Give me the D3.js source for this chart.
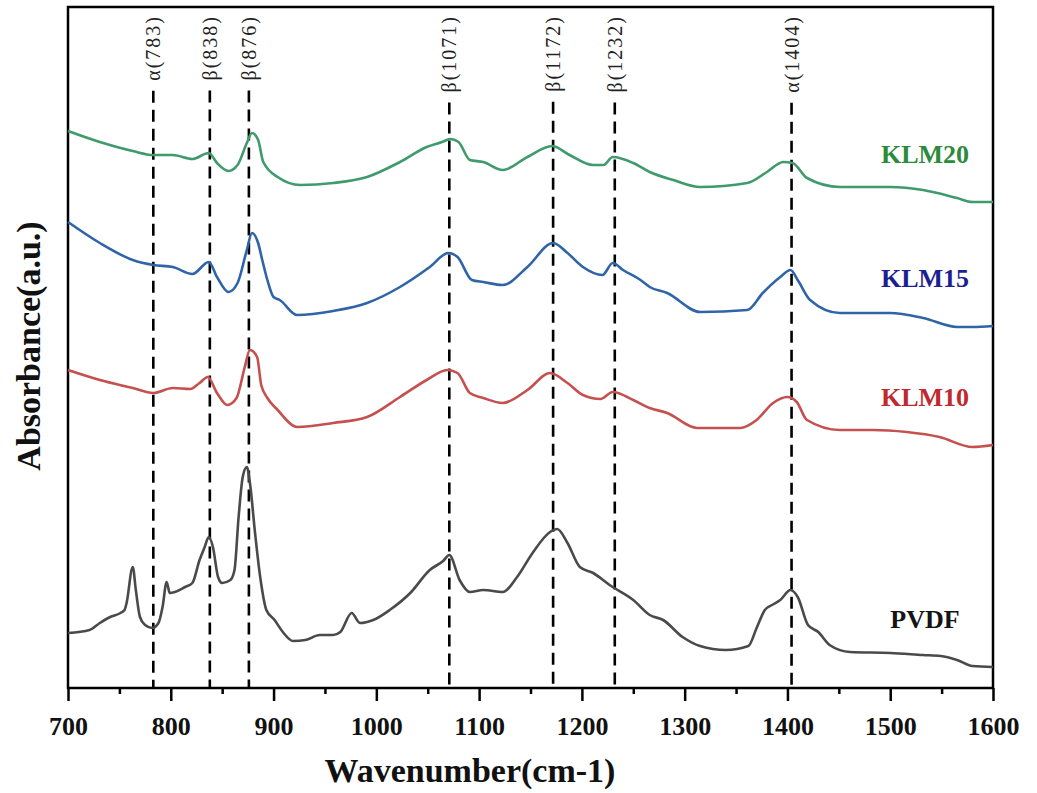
<!DOCTYPE html>
<html>
<head>
<meta charset="utf-8">
<title>FTIR spectra</title>
<script src="https://cdn.jsdelivr.net/npm/d3@7/dist/d3.min.js"></script>
<style>
  body { margin: 0; background: #fff; }
  svg { display: block; }
</style>
</head>
<body>
<div id="chart"></div>
<script>
"use strict";
// Spectra as [wavenumber (cm-1), absorbance (a.u., stacked offset)]
const PVDF = [
  [700, 0.55], [721, 0.58], [731, 0.65], [741, 0.71], [751, 0.75], [755, 0.78], [757, 0.85],
  [763, 1.21], [766, 0.98], [770, 0.71], [775, 0.63], [782, 0.60], [788, 0.65], [792, 0.81],
  [796, 1.06], [799, 0.95], [804, 0.96], [814, 1.01], [821, 1.05], [828, 1.28], [833, 1.41],
  [837, 1.51], [841, 1.41], [846, 1.11], [850, 1.05], [858, 1.08], [862, 1.18], [866, 1.71],
  [870, 2.11], [874, 2.21], [877, 2.05], [882, 1.55], [887, 1.11], [893, 0.78], [901, 0.68],
  [909, 0.56], [919, 0.47], [931, 0.48], [945, 0.53], [958, 0.53], [965, 0.56], [976, 0.75],
  [984, 0.65], [997, 0.68], [1013, 0.78], [1033, 0.95], [1052, 1.18], [1065, 1.27], [1071, 1.33],
  [1081, 1.08], [1091, 0.96], [1104, 0.98], [1123, 0.96], [1137, 1.11], [1152, 1.35], [1169, 1.56],
  [1176, 1.59], [1186, 1.45], [1198, 1.21], [1211, 1.15], [1227, 1.03], [1250, 0.88], [1266, 0.73],
  [1279, 0.68], [1298, 0.51], [1315, 0.42], [1340, 0.38], [1362, 0.42], [1370, 0.60], [1378, 0.78],
  [1385, 0.83], [1393, 0.88], [1403, 0.98], [1410, 0.91], [1420, 0.63], [1430, 0.56], [1441, 0.43],
  [1461, 0.36], [1500, 0.35], [1532, 0.33], [1549, 0.32], [1565, 0.28], [1580, 0.22], [1600, 0.21]
];
const KLM10 = [
  [700, 3.18], [731, 3.08], [763, 3.00], [783, 2.95], [802, 3.00], [819, 2.99], [828, 3.05],
  [836, 3.11], [845, 2.95], [855, 2.83], [864, 2.90], [872, 3.21], [877, 3.38], [884, 3.31],
  [888, 3.03], [894, 2.90], [904, 2.78], [923, 2.61], [958, 2.65], [991, 2.71], [1023, 2.91],
  [1049, 3.08], [1069, 3.18], [1079, 3.15], [1091, 2.95], [1104, 2.90], [1123, 2.85], [1147, 2.98],
  [1169, 3.15], [1186, 3.05], [1201, 2.93], [1218, 2.89], [1230, 2.96], [1250, 2.88], [1266, 2.80],
  [1283, 2.75], [1312, 2.60], [1354, 2.60], [1370, 2.68], [1386, 2.85], [1400, 2.91], [1409, 2.86],
  [1419, 2.68], [1451, 2.58], [1483, 2.58], [1516, 2.56], [1548, 2.51], [1580, 2.41], [1600, 2.43]
];
const KLM15 = [
  [700, 4.66], [731, 4.45], [763, 4.28], [783, 4.23], [802, 4.21], [821, 4.14], [837, 4.26],
  [845, 4.11], [856, 3.96], [865, 4.05], [874, 4.38], [879, 4.55], [885, 4.45], [889, 4.28],
  [894, 4.08], [900, 3.91], [906, 3.88], [923, 3.73], [958, 3.77], [991, 3.85], [1023, 4.01],
  [1052, 4.21], [1070, 4.35], [1079, 4.31], [1093, 4.08], [1104, 4.06], [1123, 4.03], [1147, 4.21],
  [1172, 4.45], [1186, 4.35], [1201, 4.21], [1220, 4.13], [1230, 4.25], [1240, 4.18], [1257, 4.08],
  [1266, 4.01], [1283, 3.95], [1315, 3.76], [1361, 3.78], [1376, 3.95], [1393, 4.11], [1403, 4.18],
  [1410, 4.08], [1422, 3.88], [1451, 3.75], [1500, 3.75], [1532, 3.70], [1565, 3.61], [1580, 3.61],
  [1600, 3.62]
];
const KLM20 = [
  [700, 5.57], [731, 5.46], [763, 5.37], [783, 5.33], [802, 5.33], [821, 5.29], [837, 5.35],
  [845, 5.25], [856, 5.17], [865, 5.23], [874, 5.45], [879, 5.55], [885, 5.48], [890, 5.26],
  [904, 5.11], [926, 5.03], [958, 5.05], [991, 5.11], [1023, 5.26], [1049, 5.41], [1064, 5.46],
  [1072, 5.49], [1080, 5.46], [1091, 5.28], [1104, 5.26], [1123, 5.18], [1147, 5.31], [1171, 5.42],
  [1188, 5.33], [1211, 5.23], [1221, 5.23], [1230, 5.31], [1250, 5.25], [1266, 5.16], [1289, 5.08],
  [1315, 5.01], [1361, 5.05], [1380, 5.16], [1396, 5.26], [1405, 5.25], [1419, 5.10], [1451, 5.01],
  [1500, 5.01], [1532, 4.98], [1565, 4.90], [1580, 4.86], [1600, 4.86]
];
const SERIES_NAMES = ['KLM20', 'KLM15', 'KLM10', 'PVDF'];
const SERIES_DATA = [KLM20, KLM15, KLM10, PVDF];
const LINE_COLORS = ['#3f9a6c', '#2f65a6', '#c4504f', '#4a4a4a'];
const LABEL_COLORS = ['#2c8a3c', '#1c1f92', '#c0292e', '#141414'];

// Assigned bands (cm-1) and their crystal phase
const PEAK_POS = [783, 838, 876, 1071, 1172, 1232, 1404];
const PEAK_PHASE = ['α', 'β', 'β', 'β', 'β', 'β', 'α'];

const X_DOMAIN = [700, 1600];
const X_MAJOR = [700, 800, 900, 1000, 1100, 1200, 1300, 1400, 1500, 1600];
const X_MINOR = [750, 850, 950, 1050, 1150, 1250, 1350, 1450, 1550];
const Y_DOMAIN = [0, 6.81];

const WIDTH = 1037;
const HEIGHT = 793;
const MARGIN = { top: 7, right: 44, bottom: 105, left: 68 };
const SERIF = '"Liberation Serif", "Times New Roman", serif';

const svg = d3.select('#chart')
  .append('svg')
  .attr('width', WIDTH)
  .attr('height', HEIGHT);

const x = d3.scaleLinear()
  .domain(X_DOMAIN)
  .range([MARGIN.left, WIDTH - MARGIN.right]);
const y = d3.scaleLinear()
  .domain(Y_DOMAIN)
  .range([HEIGHT - MARGIN.bottom, MARGIN.top]);

// Bottom axis: major ticks with labels, minor ticks without
const axisY = HEIGHT - MARGIN.bottom;
const major = svg.append('g')
  .attr('transform', `translate(0,${axisY})`)
  .call(d3.axisBottom(x)
    .tickValues(X_MAJOR)
    .tickFormat(d3.format('d'))
    .tickSize(13)
    .tickSizeOuter(0)
    .tickPadding(16));
major.select('.domain').remove();
major.selectAll('line').attr('stroke', '#000').attr('stroke-width', 2.5);
major.selectAll('text')
  .attr('font-family', SERIF)
  .attr('font-weight', 'bold')
  .attr('font-size', '26px')
  .attr('fill', '#111');

const minor = svg.append('g')
  .attr('transform', `translate(0,${axisY})`)
  .call(d3.axisBottom(x).tickValues(X_MINOR).tickSize(6).tickFormat(''));
minor.select('.domain').remove();
minor.selectAll('line').attr('stroke', '#000').attr('stroke-width', 2.5);

// Plot frame
svg.append('rect')
  .attr('x', x(X_DOMAIN[0]))
  .attr('y', y(Y_DOMAIN[1]))
  .attr('width', x(X_DOMAIN[1]) - x(X_DOMAIN[0]))
  .attr('height', y(Y_DOMAIN[0]) - y(Y_DOMAIN[1]))
  .attr('fill', 'none')
  .attr('stroke', '#000')
  .attr('stroke-width', 2.5);

// Peak labels, rotated, hanging from the top edge
const peakLabels = svg.append('g')
  .selectAll('text')
  .data(PEAK_POS)
  .join('text')
  .attr('transform', d => `translate(${x(d) + 7},15) rotate(-90)`)
  .attr('text-anchor', 'end')
  .attr('font-family', SERIF)
  .attr('font-size', '20px')
  .attr('letter-spacing', '2px')
  .attr('fill', '#222')
  .text((d, i) => `${PEAK_PHASE[i]}(${d})`);

// Dashed guide lines start just under each label
const labelLen = peakLabels.nodes().map(n => n.getComputedTextLength());
svg.append('g')
  .selectAll('line')
  .data(PEAK_POS)
  .join('line')
  .attr('x1', d => x(d))
  .attr('x2', d => x(d))
  .attr('y1', (d, i) => 15 + labelLen[i] + 10)
  .attr('y2', axisY)
  .attr('stroke', '#000')
  .attr('stroke-width', 2.6)
  .attr('stroke-dasharray', '12,7');

// Spectra
const line = d3.line()
  .x(d => x(d[0]))
  .y(d => y(d[1]))
  .curve(d3.curveMonotoneX);

svg.append('g')
  .selectAll('path')
  .data(SERIES_DATA)
  .join('path')
  .attr('d', line)
  .attr('fill', 'none')
  .attr('stroke', (d, i) => LINE_COLORS[i])
  .attr('stroke-width', 2.6)
  .attr('stroke-linejoin', 'round');

// Series names sit above the right end of each curve
svg.append('g')
  .selectAll('text')
  .data(SERIES_NAMES)
  .join('text')
  .attr('x', x(X_DOMAIN[1]) - 68)
  .attr('y', (d, i) => y(SERIES_DATA[i][SERIES_DATA[i].length - 1][1]) - 39)
  .attr('text-anchor', 'middle')
  .attr('font-family', SERIF)
  .attr('font-weight', 'bold')
  .attr('font-size', '26px')
  .attr('fill', (d, i) => LABEL_COLORS[i])
  .text(d => d);

// Axis titles
svg.append('text')
  .attr('x', 470)
  .attr('y', 782)
  .attr('text-anchor', 'middle')
  .attr('font-family', SERIF)
  .attr('font-weight', 'bold')
  .attr('font-size', '34px')
  .attr('fill', '#111')
  .text('Wavenumber(cm-1)');

svg.append('text')
  .attr('transform', 'translate(40,346) rotate(-90)')
  .attr('text-anchor', 'middle')
  .attr('font-family', SERIF)
  .attr('font-weight', 'bold')
  .attr('font-size', '34px')
  .attr('fill', '#111')
  .text('Absorbance(a.u.)');
</script>
</body>
</html>
